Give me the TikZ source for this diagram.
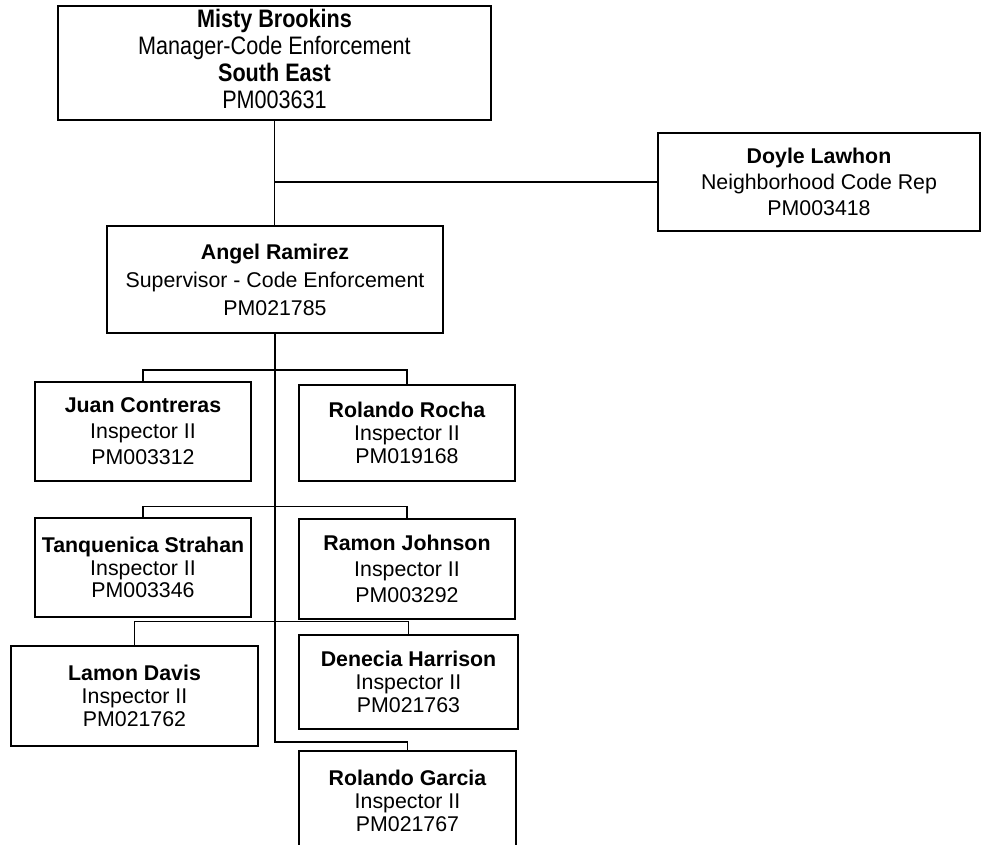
\documentclass[tikz,border=0pt]{standalone}
\usepackage{graphicx}
\usepackage{fontspec}
\setmainfont{Liberation Sans}

\begin{document}
\begin{tikzpicture}[x = 0.75pt, y = -0.75pt,
    person/.style = {draw = black, line width = 1.5pt, inner sep = 0pt, align = center,
                     font = \fontsize{16}{19.5}\selectfont},
    tight/.style = {font = \fontsize{16}{17}\selectfont},
    link/.style = {draw = black, line width = 1.4pt}]

\useasboundingbox (0, 0) rectangle (981, 845);

\node [person, minimum width = 324.75pt, minimum height = 85.5pt] (misty) at (274.5, 63)
  {\scalebox{1}[1.17]{\fontsize{16.2}{17.3}\selectfont\def\arraystretch{1}%
   \begin{tabular}{@{}c@{}}\textbf{Misty Brookins}\\ Manager-Code Enforcement\\ \textbf{South East}\\ PM003631\end{tabular}}};

\node [person, minimum width = 241.5pt, minimum height = 73.5pt] (doyle) at (819, 182)
  {\textbf{Doyle Lawhon}\\ Neighborhood Code Rep\\ PM003418};

\node [person, minimum width = 252pt, minimum height = 80.25pt, font = \fontsize{16}{21}\selectfont] (angel) at (275, 279.5)
  {\textbf{Angel Ramirez}\\ Supervisor - Code Enforcement\\ PM021785};

\node [person, minimum width = 162pt, minimum height = 74.25pt] (juan) at (143, 431.5)
  {\textbf{Juan Contreras}\\ Inspector II\\ PM003312};
\node [person, tight, minimum width = 162pt, minimum height = 72pt] (rocha) at (407, 433)
  {\textbf{Rolando Rocha}\\ Inspector II\\ PM019168};

\node [person, tight, minimum width = 162pt, minimum height = 74.25pt] (tanq) at (143, 567.5)
  {\textbf{Tanquenica Strahan}\\ Inspector II\\ PM003346};
\node [person, minimum width = 162pt, minimum height = 75pt] (ramon) at (407, 569)
  {\textbf{Ramon Johnson}\\ Inspector II\\ PM003292};

\node [person, tight, minimum width = 185.25pt, minimum height = 75pt] (lamon) at (134.5, 696)
  {\textbf{Lamon Davis}\\ Inspector II\\ PM021762};
\node [person, tight, minimum width = 164.25pt, minimum height = 70.5pt] (denecia) at (408.5, 682)
  {\textbf{Denecia Harrison}\\ Inspector II\\ PM021763};

\node [person, tight, minimum width = 162.75pt, minimum height = 75pt] (garcia) at (407.5, 801)
  {\textbf{Rolando Garcia}\\ Inspector II\\ PM021767};

% manager and supervisor
\path [link] (misty.south) -- (misty.south |- angel.north);
\path [link] (misty.south |- doyle.west) -- (doyle.west);

% trunk down to the last inspector
\coordinate (trunk) at (275, 742);
\path [link] (angel.south) -- (trunk) -| (garcia.north);

% pairs of inspectors
\path [link] (juan.north) -- ++(0, -11) -| (rocha.north);
\path [link] (tanq.north) -- ++(0, -10.5) -| (ramon.north);
\path [link] (lamon.north) -- ++(0, -23.5) -| (denecia.north);
\end{tikzpicture}
\end{document}
